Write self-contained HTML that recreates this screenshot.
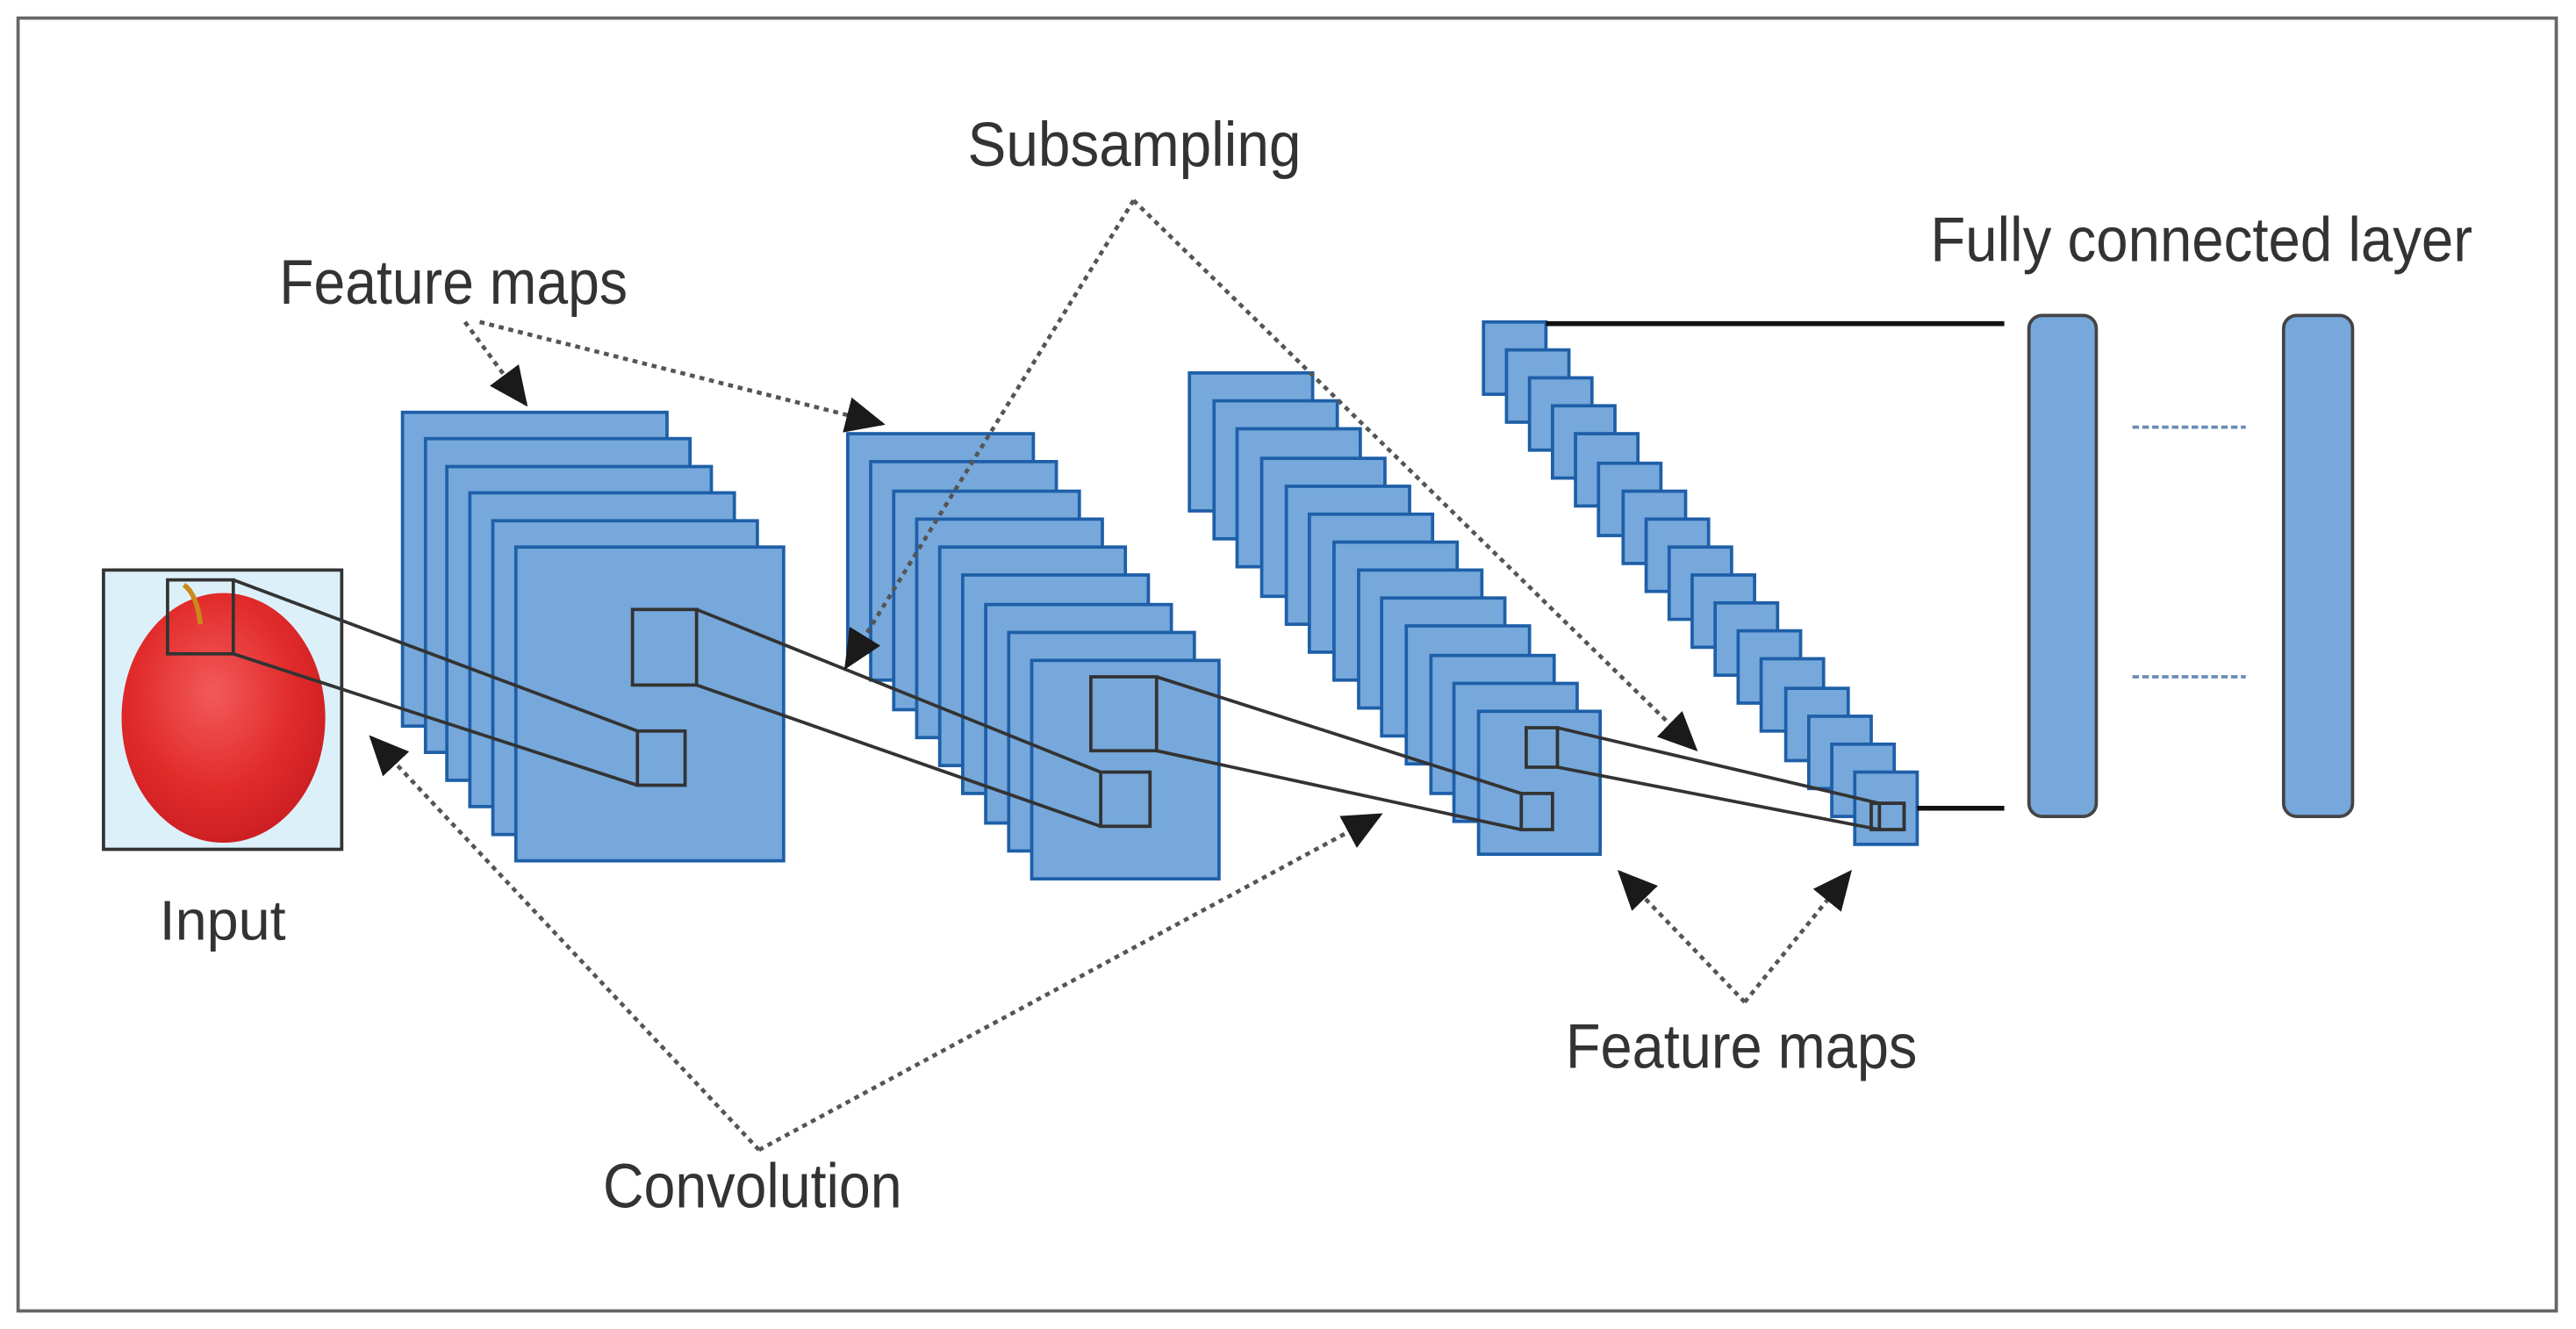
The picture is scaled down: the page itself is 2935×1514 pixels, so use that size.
<!DOCTYPE html>
<html><head><meta charset="utf-8"><style>
html,body{margin:0;padding:0;background:#fff;}
svg{display:block;}
text{font-family:"Liberation Sans",sans-serif;fill:#333;}
</style></head><body>
<svg width="2935" height="1514" viewBox="0 0 1568 809" preserveAspectRatio="none" xmlns="http://www.w3.org/2000/svg">
<defs>
<marker id="ah" markerUnits="userSpaceOnUse" markerWidth="26" markerHeight="22" refX="22" refY="11" orient="auto">
<polygon points="0,0 24,11 0,22" fill="#1a1a1a"/>
</marker>
<radialGradient id="ap" cx="0.45" cy="0.4" r="0.65">
<stop offset="0" stop-color="#f25a5a"/><stop offset="0.6" stop-color="#e22b2b"/><stop offset="1" stop-color="#c91d22"/>
</radialGradient>
</defs>
<rect x="0" y="0" width="1568" height="809" fill="#fff"/>
<rect x="11" y="11" width="1545" height="787" fill="none" stroke="#666" stroke-width="2"/>

<!-- Input -->
<rect x="63" y="347" width="145" height="170" fill="#dcf0fa" stroke="#333" stroke-width="2"/>
<ellipse cx="136" cy="437" rx="62" ry="76" fill="url(#ap)"/>
<path d="M112 356 Q120 362 122 380" stroke="#c98a1a" stroke-width="3" fill="none"/>
<rect x="102" y="353" width="40" height="45" fill="none" stroke="#333" stroke-width="2"/>
<text x="97" y="572" font-size="34" textLength="77" lengthAdjust="spacingAndGlyphs">Input</text>

<g fill="#76a8db" stroke="#1e5fa8" stroke-width="2">
<!-- Stack 1 -->
<rect x="245" y="251" width="161" height="191"/>
<rect x="259" y="267" width="161" height="191"/>
<rect x="272" y="284" width="161" height="191"/>
<rect x="286" y="300" width="161" height="191"/>
<rect x="300" y="317" width="161" height="191"/>
<rect x="314" y="333" width="163" height="191"/>
<!-- Stack 2 -->
<rect x="516" y="264" width="113" height="133"/>
<rect x="530" y="281" width="113" height="133"/>
<rect x="544" y="299" width="113" height="133"/>
<rect x="558" y="316" width="113" height="133"/>
<rect x="572" y="333" width="113" height="133"/>
<rect x="586" y="350" width="113" height="133"/>
<rect x="600" y="368" width="113" height="133"/>
<rect x="614" y="385" width="113" height="133"/>
<rect x="628" y="402" width="114" height="133"/>
<!-- Stack 3 -->
<rect x="724" y="227" width="75" height="84"/>
<rect x="739" y="244" width="75" height="84"/>
<rect x="753" y="261" width="75" height="84"/>
<rect x="768" y="279" width="75" height="84"/>
<rect x="783" y="296" width="75" height="84"/>
<rect x="797" y="313" width="75" height="84"/>
<rect x="812" y="330" width="75" height="84"/>
<rect x="827" y="347" width="75" height="84"/>
<rect x="841" y="364" width="75" height="84"/>
<rect x="856" y="381" width="75" height="84"/>
<rect x="871" y="399" width="75" height="84"/>
<rect x="885" y="416" width="75" height="84"/>
<rect x="900" y="433" width="74" height="87"/>
<!-- Stack 4 -->
<rect x="903" y="196" width="38" height="44"/>
<rect x="917" y="213" width="38" height="44"/>
<rect x="931" y="230" width="38" height="44"/>
<rect x="945" y="247" width="38" height="44"/>
<rect x="959" y="264" width="38" height="44"/>
<rect x="973" y="282" width="38" height="44"/>
<rect x="988" y="299" width="38" height="44"/>
<rect x="1002" y="316" width="38" height="44"/>
<rect x="1016" y="333" width="38" height="44"/>
<rect x="1030" y="350" width="38" height="44"/>
<rect x="1044" y="367" width="38" height="44"/>
<rect x="1058" y="384" width="38" height="44"/>
<rect x="1072" y="401" width="38" height="44"/>
<rect x="1087" y="419" width="38" height="44"/>
<rect x="1101" y="436" width="38" height="44"/>
<rect x="1115" y="453" width="38" height="44"/>
<rect x="1129" y="470" width="38" height="44"/>
</g>

<!-- inner boxes and connecting lines -->
<g fill="none" stroke="#333" stroke-width="2">
<line x1="142" y1="353" x2="388" y2="445"/>
<line x1="142" y1="398" x2="388" y2="478"/>
<rect x="385" y="371" width="39" height="46"/>
<rect x="388" y="445" width="29" height="33"/>
<line x1="424" y1="371" x2="670" y2="470"/>
<line x1="424" y1="417" x2="670" y2="503"/>
<rect x="664" y="412" width="40" height="45"/>
<rect x="670" y="470" width="30" height="33"/>
<line x1="704" y1="412" x2="926" y2="483"/>
<line x1="704" y1="457" x2="926" y2="505"/>
<rect x="929" y="443" width="19" height="24"/>
<rect x="926" y="483" width="19" height="22"/>
<line x1="948" y1="443" x2="1144" y2="489"/>
<line x1="948" y1="467" x2="1144" y2="505"/>
<rect x="1144" y="489" width="15" height="16"/>
<rect x="1139" y="489" width="20" height="16"/>
</g>

<!-- FC -->
<line x1="941" y1="197" x2="1220" y2="197" stroke="#111" stroke-width="3"/>
<line x1="1167" y1="492" x2="1220" y2="492" stroke="#111" stroke-width="3"/>
<rect x="1235" y="192" width="41" height="305" rx="8" fill="#76a8db" stroke="#444" stroke-width="2"/>
<rect x="1390" y="192" width="42" height="305" rx="8" fill="#76a8db" stroke="#444" stroke-width="2"/>
<g stroke="#6a8cb5" stroke-width="2" stroke-dasharray="4,2">
<line x1="1298" y1="260" x2="1367" y2="260"/>
<line x1="1298" y1="412" x2="1367" y2="412"/>
</g>

<!-- dotted arrows -->
<g fill="none" stroke="#555" stroke-width="2.5" stroke-dasharray="3,3">
<path d="M283 196 L320 246" marker-end="url(#ah)"/>
<path d="M292 196 L537 258" marker-end="url(#ah)"/>
<path d="M690 122 L515 406" marker-end="url(#ah)"/>
<path d="M690 122 L1032 456" marker-end="url(#ah)"/>
<path d="M462 700 L226 449" marker-end="url(#ah)"/>
<path d="M462 700 L840 496" marker-end="url(#ah)"/>
<path d="M1062 610 L986 531" marker-end="url(#ah)"/>
<path d="M1062 610 L1126 531" marker-end="url(#ah)"/>
</g>

<!-- labels -->
<text x="589" y="101" font-size="38" textLength="203" lengthAdjust="spacingAndGlyphs">Subsampling</text>
<text x="170" y="185" font-size="38" textLength="212" lengthAdjust="spacingAndGlyphs">Feature maps</text>
<text x="1175" y="159" font-size="38" textLength="330" lengthAdjust="spacingAndGlyphs">Fully connected layer</text>
<text x="953" y="650" font-size="38" textLength="214" lengthAdjust="spacingAndGlyphs">Feature maps</text>
<text x="367" y="735" font-size="38" textLength="182" lengthAdjust="spacingAndGlyphs">Convolution</text>
</svg>
</body></html>
